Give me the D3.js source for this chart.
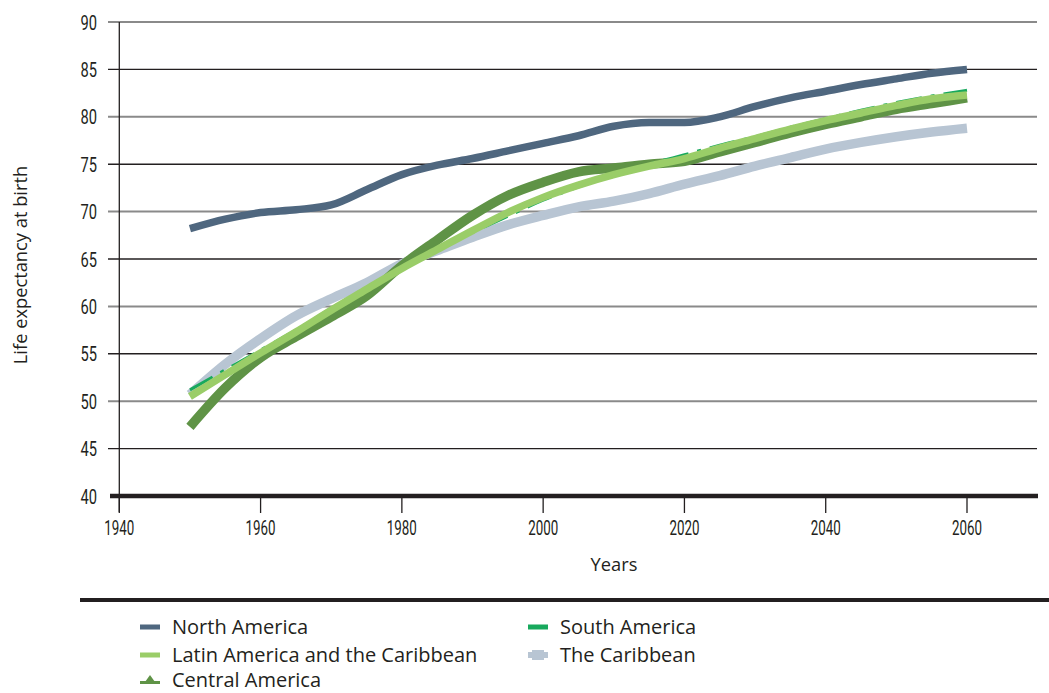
<!DOCTYPE html>
<html>
<head>
<meta charset="utf-8">
<script src="https://cdn.jsdelivr.net/npm/d3@7"></script>
<style>
  html, body { margin: 0; padding: 0; background: #fff; }
  svg { display: block; }
  .tick-label { font-family: "Liberation Sans Narrow", "Roboto", "Liberation Sans", sans-serif; font-size: 21px; fill: #231f20; }
  .title { font-family: "Open Sans", "Noto Sans", sans-serif; font-size: 18.3px; fill: #231f20; }
  .legend { font-family: "Open Sans", "Noto Sans", sans-serif; font-size: 20px; fill: #231f20; }
</style>
</head>
<body>
<svg id="chart" width="1049" height="693"></svg>
<script>
// ---- data ----
const years = [1950,1955,1960,1965,1970,1975,1980,1985,1990,1995,2000,2005,2010,2015,2020,2025,2030,2035,2040,2045,2050,2055,2060];
const northAmerica = [68.2,69.2,69.9,70.2,70.7,72.3,73.9,74.9,75.6,76.4,77.2,78.0,79.0,79.4,79.4,80.0,81.1,82.0,82.7,83.4,84.0,84.6,85.0];
const latinAmerica = [50.5,52.8,55.1,57.3,59.6,61.8,64.0,66.0,68.0,69.9,71.5,72.8,73.9,74.8,75.6,76.7,77.7,78.7,79.6,80.4,81.2,81.9,82.3];
const centralAmerica = [47.3,51.4,54.6,56.8,58.9,61.1,64.3,67.0,69.6,71.7,73.1,74.2,74.6,75.0,75.3,76.3,77.3,78.3,79.2,80.0,80.8,81.4,82.0];
const southAmerica = [51.2,53.3,55.4,57.5,59.8,62.0,64.1,66.0,67.8,69.5,71.2,72.6,73.9,75.0,76.0,77.0,77.9,78.9,79.8,80.7,81.5,82.2,82.8];
const caribbean = [50.7,53.9,56.6,59.0,60.8,62.5,64.5,65.9,67.3,68.6,69.6,70.5,71.1,71.9,72.9,73.8,74.8,75.7,76.6,77.3,77.9,78.4,78.8];
const yTicks = [40,45,50,55,60,65,70,75,80,85,90];
const xTicks = [1940,1960,1980,2000,2020,2040,2060];
const seriesNames = ["North America","Latin America and the Caribbean","Central America","South America","The Caribbean"];

// ---- layout ----
const svg = d3.select("#chart");
const x = d3.scaleLinear().domain([1940, 2060]).range([119.3, 967]);
const y = d3.scaleLinear().domain([40, 90]).range([496, 22]);

// gridlines
const grid = svg.append("g");
yTicks.filter(v => v > 40).forEach(v => {
  grid.append("line")
    .attr("x1", 108).attr("x2", 1037)
    .attr("y1", y(v)).attr("y2", y(v))
    .attr("stroke", (v % 10 === 0) ? "#8a8a8a" : "#231f20")
    .attr("stroke-width", (v % 10 === 0) ? 2 : 1.4);
});

// vertical axis line
svg.append("line")
  .attr("x1", x(1940)).attr("x2", x(1940))
  .attr("y1", y(90)).attr("y2", 512)
  .attr("stroke", "#231f20").attr("stroke-width", 1.3);

// x ticks
xTicks.forEach(t => {
  svg.append("line")
    .attr("x1", x(t)).attr("x2", x(t))
    .attr("y1", y(40)).attr("y2", 513)
    .attr("stroke", "#231f20").attr("stroke-width", 1.3);
  svg.append("text").attr("class", "tick-label")
    .attr("x", x(t)).attr("y", 535)
    .attr("text-anchor", "middle")
    .attr("textLength", 30).attr("lengthAdjust", "spacingAndGlyphs")
    .text(t);
});

// y tick labels
yTicks.forEach(v => {
  svg.append("text").attr("class", "tick-label")
    .attr("x", 97).attr("y", y(v) + 7.5)
    .attr("text-anchor", "end")
    .attr("textLength", 16.5).attr("lengthAdjust", "spacingAndGlyphs")
    .text(v);
});

// baseline
svg.append("line")
  .attr("x1", 110).attr("x2", 1038)
  .attr("y1", y(40)).attr("y2", y(40))
  .attr("stroke", "#231f20").attr("stroke-width", 4.5);

// axis titles
svg.append("text").attr("class", "title")
  .attr("x", 614).attr("y", 571).attr("text-anchor", "middle").text("Years");
svg.append("text").attr("class", "title")
  .attr("transform", "translate(27,265) rotate(-90)")
  .attr("text-anchor", "middle").text("Life expectancy at birth");

// ---- series ----
const line = (vals) => d3.line()
  .x((d, i) => x(years[i]))
  .y(d => y(d))
  .curve(d3.curveMonotoneX)(vals);

const series = [
  { name: seriesNames[4], vals: caribbean, color: "#b8c5d3", w: 9.5, dash: null },
  { name: seriesNames[2], vals: centralAmerica, color: "#5f9346", w: 9.5, dash: null },
  { name: seriesNames[3], vals: southAmerica, color: "#18a95d", w: 3, dash: "26,9,4,9" },
  { name: seriesNames[1], vals: latinAmerica, color: "#9acd68", w: 7.5, dash: null },
  { name: seriesNames[0], vals: northAmerica, color: "#4f677f", w: 7.5, dash: null }
];

series.forEach(s => {
  const p = svg.append("path")
    .attr("d", line(s.vals))
    .attr("fill", "none")
    .attr("stroke", s.color)
    .attr("stroke-width", s.w)
    .attr("stroke-linecap", "butt");
  if (s.dash) p.attr("stroke-dasharray", s.dash);
});

// separator line
svg.append("line")
  .attr("x1", 80).attr("x2", 1049)
  .attr("y1", 600).attr("y2", 600)
  .attr("stroke", "#231f20").attr("stroke-width", 4);

// ---- legend ----
const legendItems = [
  { name: seriesNames[0], color: "#4f677f", lx: 140, ly: 627, ty: 7, type: "bar" },
  { name: seriesNames[1], color: "#9acd68", lx: 140, ly: 655, ty: 7, type: "bar" },
  { name: seriesNames[2], color: "#5f9346", lx: 140, ly: 681, ty: 5.5, type: "tri" },
  { name: seriesNames[3], color: "#18a95d", lx: 528, ly: 627, ty: 7, type: "bar" },
  { name: seriesNames[4], color: "#b8c5d3", lx: 528, ly: 655, ty: 7, type: "blob" }
];
legendItems.forEach(it => {
  const g = svg.append("g").attr("transform", `translate(${it.lx},${it.ly})`);
  if (it.type === "bar") {
    g.append("rect").attr("x", 0).attr("y", -2.5).attr("width", 20).attr("height", 5).attr("fill", it.color);
  } else if (it.type === "tri") {
    g.append("rect").attr("x", 0).attr("y", 0).attr("width", 20).attr("height", 3).attr("fill", it.color);
    g.append("path").attr("d", "M5,1 L10,-6 L15,1 Z").attr("fill", it.color);
  } else {
    g.append("rect").attr("x", 0).attr("y", -3).attr("width", 20).attr("height", 6).attr("fill", it.color);
    g.append("rect").attr("x", 4).attr("y", -5).attr("width", 12).attr("height", 10).attr("fill", it.color);
  }
  g.append("text").attr("class", "legend").attr("x", 32).attr("y", it.ty).text(it.name);
});
</script>
</body>
</html>
